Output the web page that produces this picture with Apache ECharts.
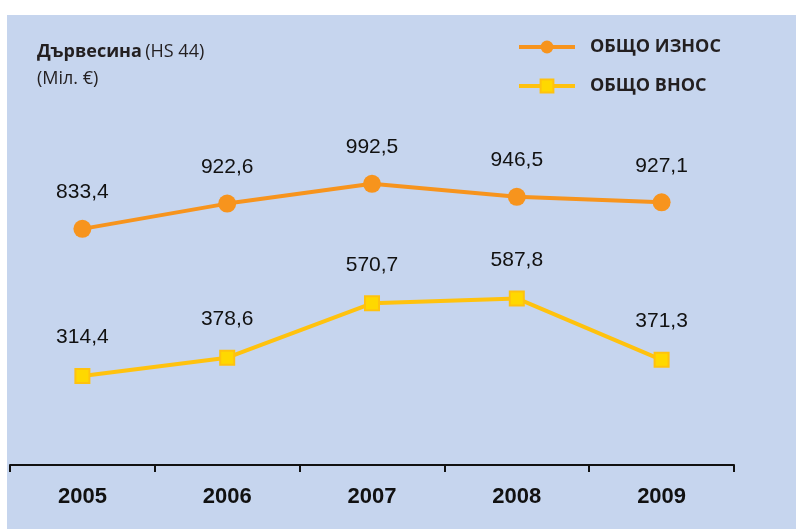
<!DOCTYPE html>
<html>
<head>
<meta charset="utf-8">
<script src="https://cdn.jsdelivr.net/npm/echarts@6/dist/echarts.min.js"></script>
<style>
  html, body { margin: 0; padding: 0; background: #fff; }
  #chart { width: 796px; height: 529px; }
</style>
</head>
<body>
<div id="chart"></div>
<script>
// data
const years = ['2005', '2006', '2007', '2008', '2009'];
const exportTotal = [833.4, 922.6, 992.5, 946.5, 927.1];
const importTotal = [314.4, 378.6, 570.7, 587.8, 371.3];

const fmt = (p) => String(p.value).replace('.', ',');

const chart = echarts.init(document.getElementById('chart'));

const option = {
  animation: false,
  backgroundColor: '#fff',
  graphic: [
    {
      type: 'rect',
      z: -10,
      shape: { x: 7, y: 15, width: 800, height: 520 },
      style: { fill: '#c6d5ee' }
    },
    {
      type: 'text',
      left: 37,
      top: 43,
      style: {
        rich: {
          b: { fontFamily: 'Open Sans', fontWeight: 'bold', fontSize: 18, fill: '#231f20', lineHeight: 27 },
          n: { fontFamily: 'Open Sans', fontSize: 18, fill: '#231f20', lineHeight: 27 }
        },
        text: '{b|Дървесина} {n|(HS 44)}\n{n|(Міл. €)}'
      }
    }
  ],
  legend: {
    orient: 'vertical',
    left: 512,
    top: 33,
    itemWidth: 56,
    itemHeight: 16,
    itemGap: 21,
    textStyle: { fontFamily: 'Open Sans', fontWeight: 'bold', fontSize: 18, color: '#231f20', padding: [0, 0, 0, 10] },
    data: [
      { name: 'ОБЩО ИЗНОС', lineStyle: { width: 4 } },
      { name: 'ОБЩО ВНОС', lineStyle: { width: 4 } }
    ]
  },
  grid: { left: 10, right: 62, top: 40, bottom: 64 },
  xAxis: {
    type: 'category',
    data: years,
    boundaryGap: true,
    axisLine: { lineStyle: { color: '#111', width: 2 } },
    axisTick: { show: true, length: 7, lineStyle: { color: '#111', width: 2 } },
    axisLabel: { margin: 21, fontFamily: 'Arial', fontWeight: 'bold', fontSize: 22, color: '#111' }
  },
  yAxis: {
    type: 'value',
    min: 0,
    max: 1500,
    show: false,
    splitLine: { show: false }
  },
  series: [
    {
      name: 'ОБЩО ИЗНОС',
      type: 'line',
      data: exportTotal,
      symbol: 'circle',
      symbolSize: 18,
      lineStyle: { color: '#f7941d', width: 4 },
      itemStyle: { color: '#f7941d' },
      label: {
        show: true, position: 'top', distance: 17,
        fontFamily: 'Arial', fontSize: 21, color: '#111', formatter: fmt
      }
    },
    {
      name: 'ОБЩО ВНОС',
      type: 'line',
      data: importTotal,
      symbol: 'rect',
      symbolSize: 14,
      lineStyle: { color: '#ffc20e', width: 4 },
      itemStyle: { color: '#ffd800', borderColor: '#ffc20e', borderWidth: 2 },
      label: {
        show: true, position: 'top', distance: 20,
        fontFamily: 'Arial', fontSize: 21, color: '#111', formatter: fmt
      }
    }
  ]
};

chart.setOption(option);
</script>
</body>
</html>
